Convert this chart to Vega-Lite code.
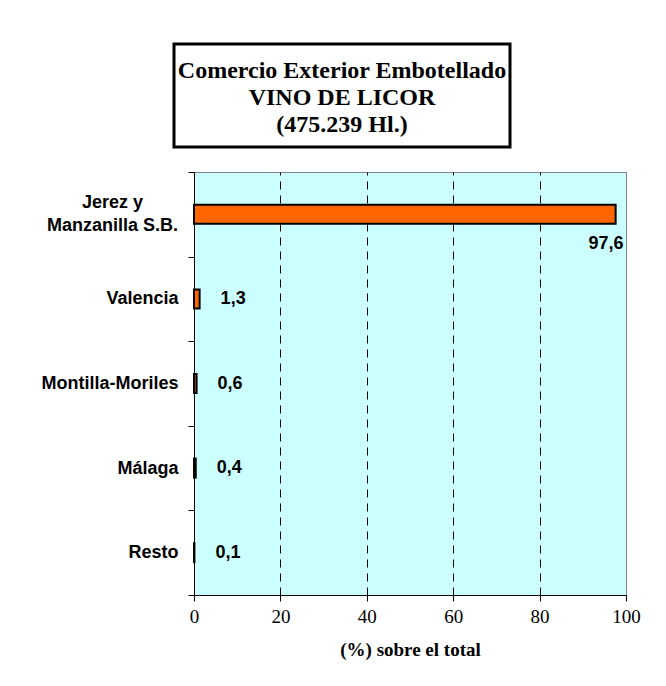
{
  "$schema": "https://vega.github.io/schema/vega-lite/v6.json",
  "background": "white",
  "padding": {"left": 20, "top": 42, "right": 5, "bottom": 5},
  "config": {
    "locale": {"number": {"decimal": ",", "thousands": ".", "grouping": [3], "currency": ["", " €"]}}
  },
  "bounds": "full",
  "spacing": 13,
  "vconcat": [
    {
      "spacing": 0,
      "bounds": "full",
      "hconcat": [
        {
          "width": 152,
          "height": 103,
          "view": {"stroke": null, "fill": null},
          "data": {"values": []},
          "mark": {"type": "point", "opacity": 0},
          "encoding": {}
        },
        {
          "width": 336,
          "height": 103,
          "view": {"stroke": "black", "strokeWidth": 3, "fill": "white"},
          "data": {"values": [{"title": "Comercio Exterior Embotellado"}]},
          "mark": {
            "type": "text",
            "font": "Liberation Serif",
            "fontWeight": "bold",
            "fontSize": 24,
            "lineHeight": 27,
            "align": "center",
            "baseline": "middle",
            "dy": -25,
            "color": "black"
          },
          "encoding": {
            "text": {"value": ["Comercio Exterior Embotellado", "VINO DE LICOR", "(475.239 Hl.)"]}
          }
        }
      ]
    },
    {
      "bounds": "full",
      "spacing": 0,
      "hconcat": [
        {
          "width": 20,
          "height": 423,
          "view": {"stroke": null, "fill": null},
          "data": {"values": []},
          "mark": {"type": "point", "opacity": 0},
          "encoding": {}
        },
        {
          "width": 432,
          "height": 423,
          "view": {"stroke": "#808080", "strokeWidth": 1, "fill": "#CCFFFF"},
          "data": {
            "values": [
              {"region": "Jerez y Manzanilla S.B.", "pct": 97.6},
              {"region": "Valencia", "pct": 1.3},
              {"region": "Montilla-Moriles", "pct": 0.6},
              {"region": "Málaga", "pct": 0.4},
              {"region": "Resto", "pct": 0.1}
            ]
          },
          "encoding": {
            "y": {
              "field": "region",
              "type": "nominal",
              "sort": null,
              "scale": {"paddingInner": 0, "paddingOuter": 0},
              "axis": {
                "title": null,
                "tickBand": "extent",
                "domainColor": "black",
                "tickColor": "black",
                "tickSize": 6,
                "labelPadding": {"condition": {"test": "datum.value == 'Jerez y Manzanilla S.B.'", "value": 76}, "value": 10},
                "labelAlign": {"condition": {"test": "datum.value == 'Jerez y Manzanilla S.B.'", "value": "center"}, "value": "right"},
                "labelOffset": {"condition": {"test": "datum.value == 'Jerez y Manzanilla S.B.'", "value": -12}, "value": 0},
                "labelFont": "Liberation Sans",
                "labelFontWeight": "bold",
                "labelFontSize": 18,
                "labelLineHeight": 23,
                "labelColor": "black",
                "labelLimit": 300,
                "labelExpr": "datum.value == 'Jerez y Manzanilla S.B.' ? ['Jerez y', 'Manzanilla S.B.'] : datum.label"
              }
            },
            "x": {
              "field": "pct",
              "type": "quantitative",
              "scale": {"domain": [0, 100], "nice": false},
              "axis": {
                "title": "(%) sobre el total",
                "titleFont": "Liberation Serif",
                "titleFontWeight": "bold",
                "titleFontSize": 19,
                "titleColor": "black",
                "titlePadding": 14,
                "values": [0, 20, 40, 60, 80, 100],
                "domainColor": "black",
                "tickColor": "black",
                "tickSize": 6,
                "labelFont": "Liberation Serif",
                "labelFontSize": 19,
                "labelColor": "black",
                "labelPadding": 6,
                "labelFlush": false,
                "grid": true,
                "gridColor": {"condition": {"test": "datum.value == 0 || datum.value == 100", "value": "transparent"}, "value": "black"},
                "gridDash": [8, 6],
                "gridWidth": 1,
                "gridOpacity": 1
              }
            }
          },
          "layer": [
            {
              "mark": {"type": "bar", "size": 19, "color": "#FF6600", "stroke": "black", "strokeWidth": 2}
            },
            {
              "transform": [{"filter": "datum.pct > 50"}],
              "mark": {
                "type": "text",
                "align": "right",
                "baseline": "middle",
                "dx": 8,
                "dy": 30,
                "font": "Liberation Sans",
                "fontWeight": "bold",
                "fontSize": 18,
                "color": "black"
              },
              "encoding": {"text": {"field": "pct", "type": "quantitative", "format": ".1f"}}
            },
            {
              "transform": [{"filter": "datum.pct <= 50"}],
              "mark": {
                "type": "text",
                "align": "left",
                "baseline": "middle",
                "dx": 21,
                "font": "Liberation Sans",
                "fontWeight": "bold",
                "fontSize": 18,
                "color": "black"
              },
              "encoding": {"text": {"field": "pct", "type": "quantitative", "format": ".1f"}}
            }
          ]
        }
      ]
    }
  ]
}
